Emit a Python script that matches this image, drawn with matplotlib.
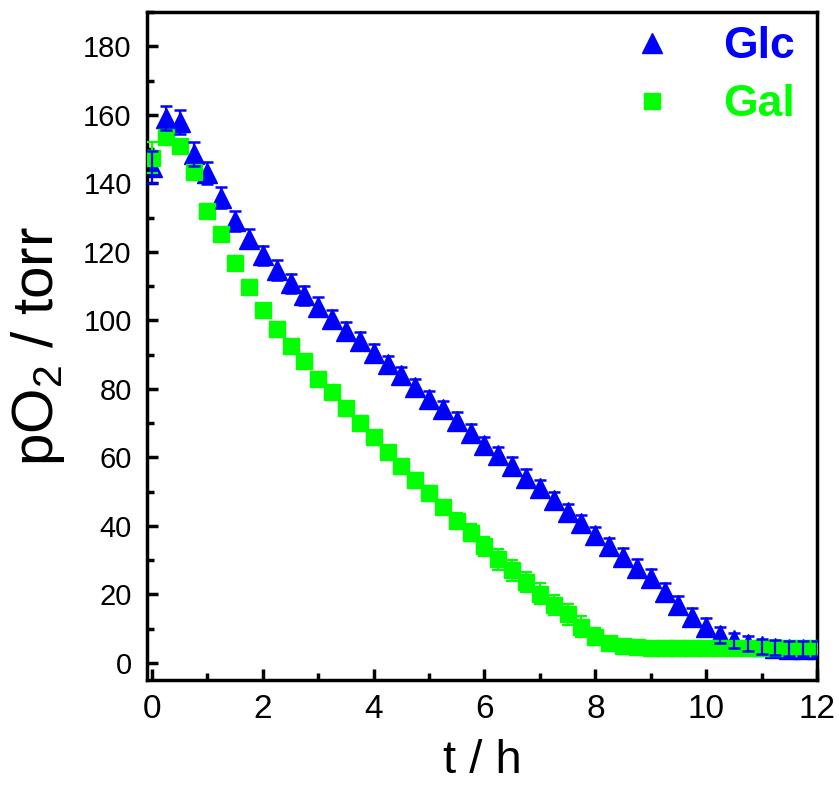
import matplotlib
matplotlib.use("Agg")
import matplotlib.pyplot as plt
from matplotlib.lines import Line2D
from matplotlib.ticker import MultipleLocator

plt.rcParams['font.family'] = ['Liberation Sans', 'DejaVu Sans']
plt.rcParams['mathtext.fontset'] = 'custom'
plt.rcParams['mathtext.rm'] = 'Liberation Sans'
plt.rcParams['mathtext.it'] = 'Liberation Sans'

time_h = [0.0, 0.25, 0.5, 0.75, 1.0, 1.25, 1.5, 1.75, 2.0, 2.25, 2.5, 2.75,
          3.0, 3.25, 3.5, 3.75, 4.0, 4.25, 4.5, 4.75, 5.0, 5.25, 5.5, 5.75,
          6.0, 6.25, 6.5, 6.75, 7.0, 7.25, 7.5, 7.75, 8.0, 8.25, 8.5, 8.75,
          9.0, 9.25, 9.5, 9.75, 10.0, 10.25, 10.5, 10.75, 11.0, 11.25, 11.5,
          11.75, 12.0]

glc = [144.8, 159.0, 158.0, 148.5, 143.0, 135.8, 129.0, 123.8, 119.0, 114.7,
       110.8, 107.3, 104.0, 100.5, 97.0, 94.0, 90.6, 87.2, 84.0, 80.5,
       77.0, 74.0, 70.6, 67.2, 63.5, 60.6, 57.6, 54.0, 51.0, 47.5,
       44.0, 40.8, 37.3, 34.0, 31.0, 27.7, 24.8, 20.8, 17.0, 13.5,
       10.6, 8.2, 6.6, 5.6, 4.8, 4.4, 4.2, 4.2, 4.2]
glc_err = [4.7, 3.5, 3.5, 3.5, 3.2, 3.0, 3.0, 2.8, 2.8, 2.8,
           2.8, 2.7, 2.7, 2.6, 2.5, 2.5, 2.5, 2.5, 2.5, 2.5,
           2.5, 2.5, 2.5, 2.5, 2.5, 2.5, 2.5, 2.5, 2.5, 2.5,
           2.5, 2.5, 2.5, 2.5, 2.5, 2.5, 2.5, 2.5, 2.5, 2.5,
           2.5, 2.3, 2.2, 2.2, 2.2, 2.2, 2.2, 2.2, 2.2]

gal = [147.5, 153.5, 150.9, 143.2, 132.0, 125.3, 116.6, 109.6, 103.0, 97.6,
       92.5, 88.0, 83.0, 79.0, 74.5, 70.0, 66.0, 61.5, 57.5, 53.5,
       49.5, 45.5, 41.5, 38.0, 34.0, 30.2, 27.0, 23.6, 20.2, 16.9,
       14.2, 10.6, 7.7, 5.8, 4.8, 4.5, 4.4, 4.4, 4.4, 4.4,
       4.4, 4.4, 4.4, 4.4, 4.4, 4.4, 4.4, 4.4, 4.4]
gal_err = [4.5, 1.5, 1.5, 1.5, 1.5, 1.5, 1.5, 1.5, 1.5, 1.5,
           1.5, 1.5, 1.5, 1.5, 1.5, 1.5, 1.5, 1.5, 1.5, 1.8,
           2.0, 2.0, 2.2, 2.5, 2.8, 3.0, 3.0, 3.0, 3.0, 3.0,
           3.0, 3.0, 2.5, 1.8, 1.5, 1.2, 1.0, 1.0, 1.0, 1.0,
           1.0, 1.0, 1.0, 1.0, 1.0, 1.0, 1.0, 1.0, 1.0]

labels = ['Glc', 'Gal']
colors = ['#0000FF', '#00FF00']

fig = plt.figure(figsize=(8.39, 7.90), dpi=100)
ax = fig.add_axes([0.1752, 0.1392, 0.7986, 0.8456])

# markers (blue first, then green on top)
ax.plot(time_h, glc, linestyle='none', marker='^', ms=14.5, color=colors[0],
        mec=colors[0], zorder=2)
ax.errorbar(time_h, gal, yerr=gal_err, linestyle='none', marker='s', ms=11.5,
            color=colors[1], mec=colors[1], ecolor=colors[1], elinewidth=1.6,
            capsize=4.5, capthick=1.6, zorder=3)
# blue error bars on top
ax.errorbar(time_h, glc, yerr=glc_err, linestyle='none', marker=None,
            ecolor=colors[0], elinewidth=1.6, capsize=4.5, capthick=1.8, zorder=4)

ax.set_xlim(-0.09, 12.0)
ax.set_ylim(-5, 190)
ax.xaxis.set_major_locator(MultipleLocator(2))
ax.xaxis.set_minor_locator(MultipleLocator(1))
ax.yaxis.set_major_locator(MultipleLocator(20))
ax.yaxis.set_minor_locator(MultipleLocator(10))
ax.tick_params(which='both', direction='in', width=2.5)
ax.tick_params(which='major', length=8)
ax.tick_params(which='minor', length=5)
ax.tick_params(axis='y', pad=11, labelsize=21)
ax.tick_params(axis='x', pad=10, labelsize=24)
for s in ax.spines.values():
    s.set_linewidth(2.5)

ax.set_xlabel('t / h', fontsize=34, labelpad=10)
ax.set_ylabel('pO$_2$ / torr', fontsize=42, labelpad=12)

handles = [Line2D([], [], linestyle='none', marker='^', ms=15, color=colors[0]),
           Line2D([], [], linestyle='none', marker='s', ms=11.5, color=colors[1])]
leg = ax.legend(handles, labels, loc='upper right', frameon=False,
                bbox_to_anchor=(1.0, 1.012),
                prop={'size': 32, 'weight': 'bold'}, handletextpad=1.0,
                labelspacing=0.38, borderaxespad=0.1, handlelength=1.2)
for txt, c in zip(leg.get_texts(), colors):
    txt.set_color(c)

fig.savefig('out.png', dpi=100)
